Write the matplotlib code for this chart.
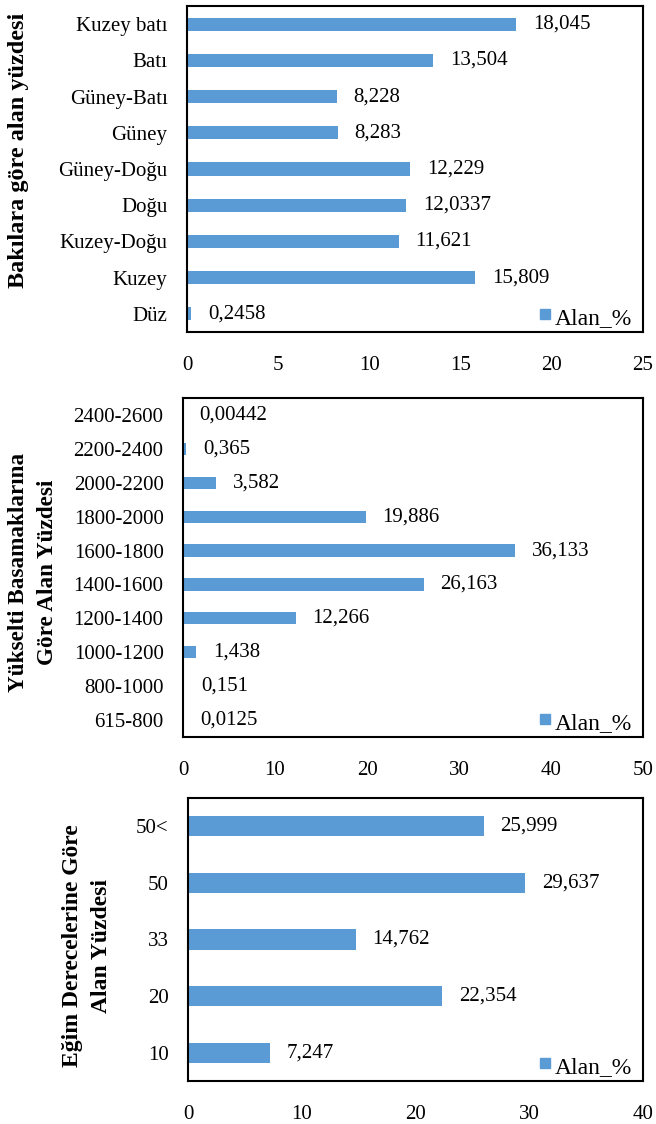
import matplotlib.pyplot as plt
import numpy as np
from matplotlib.lines import Line2D
from matplotlib.transforms import offset_copy

plt.rcParams['font.family'] = ['Liberation Serif', 'DejaVu Serif']

# Bakı (aspect) data
aspect_names = ["Düz", "Kuzey", "Kuzey-Doğu", "Doğu", "Güney-Doğu",
                "Güney", "Güney-Batı", "Batı", "Kuzey batı"]
aspect_vals = [0.2458, 15.809, 11.621, 12.0337, 12.229, 8.283, 8.228, 13.504, 18.045]
aspect_lbls = ["0,2458", "15,809", "11,621", "12,0337", "12,229",
               "8,283", "8,228", "13,504", "18,045"]

# Yükselti (elevation) data
elev_names = ["615-800", "800-1000", "1000-1200", "1200-1400", "1400-1600",
              "1600-1800", "1800-2000", "2000-2200", "2200-2400", "2400-2600"]
elev_vals = [0.0125, 0.151, 1.438, 12.266, 26.163, 36.133, 19.886, 3.582, 0.365, 0.00442]
elev_lbls = ["0,0125", "0,151", "1,438", "12,266", "26,163",
             "36,133", "19,886", "3,582", "0,365", "0,00442"]

# Eğim (slope) data
slope_names = ["10", "20", "33", "50", "50<"]
slope_vals = [7.247, 22.354, 14.762, 29.637, 25.999]
slope_lbls = ["7,247", "22,354", "14,762", "29,637", "25,999"]

BLUE = "#5B9BD5"
W, H = 656, 1124
FS = 15

fig = plt.figure(figsize=(W / 100, H / 100), dpi=100)


def box(l, t, r, b):
    return [l / W, 1 - b / H, (r - l) / W, (b - t) / H]


def panel(rect, names, vals, lbls, xmax, step):
    ax = fig.add_axes(rect)
    y = np.arange(len(names))
    ax.barh(y, vals, height=0.36, color=BLUE)
    for yi, v, s in zip(y, vals, lbls):
        ax.annotate(s, (v, yi), xytext=(12, 0), textcoords="offset points",
                    va="center", ha="left", fontsize=FS)
    ax.set_xlim(0, xmax)
    ax.set_ylim(-0.5, len(names) - 0.5)
    ax.set_xticks(np.arange(0, xmax + step, step))
    ax.set_yticks(y)
    ax.set_yticklabels(names)
    ax.tick_params(axis="both", length=0, labelsize=FS)
    ax.tick_params(axis="x", pad=17)
    ax.tick_params(axis="y", pad=14)
    for sp in ax.spines.values():
        sp.set_linewidth(1.5)
        sp.set_color("black")
    # legend sits in the lower right corner, a little in from the frame
    anchor = offset_copy(ax.transAxes, fig=fig, x=-11, y=3, units="dots")
    key = Line2D([], [], ls="", marker="s", markersize=7.5, color=BLUE)
    ax.legend([key], ["Alan_%"], loc="lower right", bbox_to_anchor=(1, 0),
              bbox_transform=anchor, frameon=False, fontsize=17,
              borderaxespad=0, borderpad=0, handlelength=0.5,
              handleheight=1.1, handletextpad=0.15)
    return ax


panel(box(187, 6, 643, 332), aspect_names, aspect_vals, aspect_lbls, 25, 5)
panel(box(183, 398, 643, 737), elev_names, elev_vals, elev_lbls, 50, 10)
panel(box(188, 798, 643, 1081), slope_names, slope_vals, slope_lbls, 40, 10)

# vertical axis titles
tkw = dict(rotation=90, ha="center", va="center", fontweight="bold",
           multialignment="center")
fig.text(19 / W, 1 - 150 / H, "Bakılara göre alan yüzdesi", fontsize=17.5, **tkw)
fig.text(33 / W, 1 - 572 / H, "Yükselti Basamaklarına\nGöre Alan Yüzdesi",
         fontsize=16.7, linespacing=1.45, **tkw)
fig.text(87 / W, 1 - 946 / H, "Eğim Derecelerine Göre\nAlan Yüzdesi",
         fontsize=17, linespacing=1.45, **tkw)

fig.savefig("out.png", dpi=100)
